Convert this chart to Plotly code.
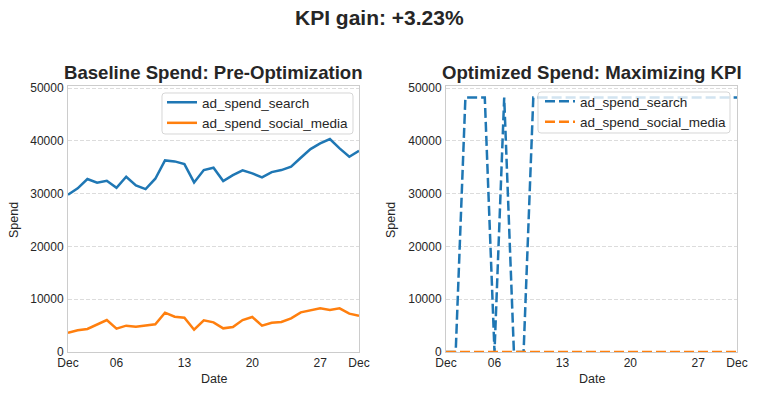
import pandas as pd
import plotly.graph_objects as go

dates = pd.date_range("2023-12-01", periods=31, freq="D")

baseline_search = [29800, 31000, 32770, 32070, 32450, 31120, 33210, 31570, 30870, 32830,
                   36300, 36110, 35600, 32130, 34470, 34910, 32390, 33520, 34410, 33840,
                   33080, 34090, 34470, 35100, 36800, 38450, 39520, 40340, 38570, 36990, 38130]
baseline_social = [3660, 4110, 4360, 5240, 6060, 4420, 4990, 4800, 4990, 5240,
                   7450, 6690, 6500, 4230, 6000, 5620, 4480, 4730, 6060, 6630,
                   4990, 5550, 5680, 6380, 7510, 7890, 8270, 7950, 8270, 7260, 6880]
opt_search = [0, 0, 48200, 48200, 48200, 0, 48200, 0, 0, 48200,
              48200, 48200, 48200, 48200, 48200, 48200, 48200, 48200, 48200, 48200,
              48200, 48200, 48200, 48200, 48200, 48200, 48200, 48200, 48200, 48200, 48200]
opt_social = [0] * 31

tick_dates = ["2023-12-01", "2023-12-06", "2023-12-13", "2023-12-20", "2023-12-27", "2023-12-31"]
tick_text = ["Dec", "06", "13", "20", "27", "Dec"]
y_ticks = [0, 10000, 20000, 30000, 40000, 50000]
y_tick_text = ["0", "10000", "20000", "30000", "40000", "50000"]

BLUE = "#1f77b4"
ORANGE = "#ff7f0e"
TXT = "#262626"
FONT = "Liberation Sans, Arial, sans-serif"
W, H = 758, 396

fig = go.Figure()

fig.add_trace(go.Scatter(x=dates, y=baseline_search, mode="lines", name="ad_spend_search",
                         line=dict(color=BLUE, width=2.5), xaxis="x", yaxis="y", legend="legend"))
fig.add_trace(go.Scatter(x=dates, y=baseline_social, mode="lines", name="ad_spend_social_media",
                         line=dict(color=ORANGE, width=2.5), xaxis="x", yaxis="y", legend="legend"))
fig.add_trace(go.Scatter(x=dates, y=opt_search, mode="lines", name="ad_spend_search",
                         line=dict(color=BLUE, width=2.5, dash="10px,4px"), xaxis="x2", yaxis="y2",
                         legend="legend2", cliponaxis=False))
fig.add_trace(go.Scatter(x=dates, y=opt_social, mode="lines", name="ad_spend_social_media",
                         line=dict(color=ORANGE, width=2.5, dash="10px,4px"), xaxis="x2", yaxis="y2",
                         legend="legend2", cliponaxis=False))

def px_x(p):
    return p / W

def px_y(p):
    return 1 - p / H

xl = [px_x(68), px_x(359)]
xr = [px_x(446), px_x(737)]
yd = [px_y(352), px_y(86)]

axis_common = dict(showline=True, linecolor="#cccccc", linewidth=1, mirror=True, automargin=False,
                   tickfont=dict(size=12, color=TXT, family=FONT), zeroline=False)

yaxis_common = dict(range=[0, 50400], tickvals=y_ticks, ticktext=y_tick_text,
                    showgrid=True, gridcolor="#dcdcdc", griddash="4px,2px",
                    ticks="outside", ticklen=0, ticklabelstandoff=1, **axis_common)
xaxis_common = dict(type="date", range=["2023-12-01", "2023-12-31"], tickvals=tick_dates,
                    ticktext=tick_text, showgrid=False, ticks="", **axis_common)

legend_common = dict(xanchor="left", yanchor="top", bgcolor="rgba(0,0,0,0)",
                     borderwidth=0, font=dict(size=13.5, color=TXT, family=FONT),
                     tracegroupgap=0, itemwidth=30)


def rounded_box(x0, y0, x1, y1, r=3):
    X = lambda p: p / W
    Y = lambda p: 1 - p / H
    return (f"M {X(x0 + r)},{Y(y0)} L {X(x1 - r)},{Y(y0)} Q {X(x1)},{Y(y0)} {X(x1)},{Y(y0 + r)} "
            f"L {X(x1)},{Y(y1 - r)} Q {X(x1)},{Y(y1)} {X(x1 - r)},{Y(y1)} "
            f"L {X(x0 + r)},{Y(y1)} Q {X(x0)},{Y(y1)} {X(x0)},{Y(y1 - r)} "
            f"L {X(x0)},{Y(y0 + r)} Q {X(x0)},{Y(y0)} {X(x0 + r)},{Y(y0)} Z")


shapes = [
    dict(type="path", path=rounded_box(162, 93, 353, 134), xref="paper", yref="paper",
         fillcolor="rgba(255,255,255,0.8)", line=dict(color="rgba(204,204,204,0.8)", width=1), layer="above"),
    dict(type="path", path=rounded_box(538, 92, 730, 133), xref="paper", yref="paper",
         fillcolor="rgba(255,255,255,0.8)", line=dict(color="rgba(204,204,204,0.8)", width=1), layer="above"),
]

fig.update_layout(
    width=W, height=H,
    margin=dict(l=0, r=0, t=0, b=0, autoexpand=False),
    paper_bgcolor="white", plot_bgcolor="white",
    font=dict(family=FONT, color=TXT, size=12),
    xaxis=dict(domain=xl, anchor="y", **xaxis_common),
    yaxis=dict(domain=yd, anchor="x", **yaxis_common),
    xaxis2=dict(domain=xr, anchor="y2", **xaxis_common),
    yaxis2=dict(domain=yd, anchor="x2", **yaxis_common),
    legend=dict(x=px_x(162), y=px_y(87), **legend_common),
    legend2=dict(x=px_x(540), y=px_y(86), **legend_common),
    shapes=shapes,
    annotations=[
        dict(text="<b>KPI gain: +3.23%</b>", x=0.5, y=px_y(18), xref="paper", yref="paper",
             showarrow=False, xanchor="center", yanchor="middle", font=dict(size=21, color=TXT)),
        dict(text="<b>Baseline Spend: Pre-Optimization</b>", x=(xl[0] + xl[1]) / 2, y=px_y(72),
             xref="paper", yref="paper", showarrow=False, xanchor="center", yanchor="middle",
             font=dict(size=18.6, color=TXT)),
        dict(text="<b>Optimized Spend: Maximizing KPI</b>", x=(xr[0] + xr[1]) / 2, y=px_y(72),
             xref="paper", yref="paper", showarrow=False, xanchor="center", yanchor="middle",
             font=dict(size=18.6, color=TXT)),
        dict(text="Spend", x=px_x(14), y=px_y(220), xref="paper", yref="paper", showarrow=False,
             textangle=-90, xanchor="center", yanchor="middle", font=dict(size=12.5, color=TXT)),
        dict(text="Spend", x=px_x(391), y=px_y(220), xref="paper", yref="paper", showarrow=False,
             textangle=-90, xanchor="center", yanchor="middle", font=dict(size=12.5, color=TXT)),
        dict(text="Date", x=(xl[0] + xl[1]) / 2, y=px_y(379), xref="paper", yref="paper",
             showarrow=False, xanchor="center", yanchor="middle", font=dict(size=12.5, color=TXT)),
        dict(text="Date", x=(xr[0] + xr[1]) / 2, y=px_y(379), xref="paper", yref="paper",
             showarrow=False, xanchor="center", yanchor="middle", font=dict(size=12.5, color=TXT)),
    ],
)

fig.write_html("out.html", config={"displayModeBar": False},
               post_script="document.body.style.margin='0px';")
